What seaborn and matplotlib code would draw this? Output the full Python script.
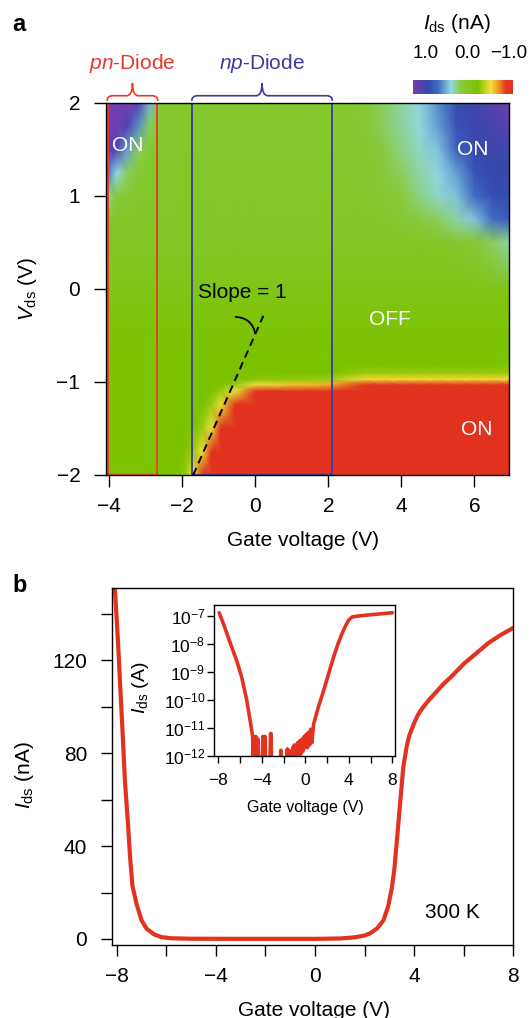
import numpy as np
import pandas as pd
import seaborn as sns
import matplotlib
matplotlib.use("Agg")
import matplotlib.pyplot as plt
from matplotlib.colors import LinearSegmentedColormap, Normalize
from matplotlib.path import Path
from matplotlib.patches import PathPatch, Rectangle
from matplotlib.ticker import FixedLocator, NullLocator

# ---------------- data: panel a (I_ds map, nA) ----------------
gate_grid = [-4.1, -3.8, -3.5, -3.2, -2.9, -2.6, -2.2, -1.95, -1.7, -1.45, -1.2, -0.95,
             -0.55, 0.0, 1.0, 2.0, 3.0, 3.5, 4.0, 4.5, 5.0, 5.5, 6.0, 6.5, 7.0]
vds_grid = [-2.0, -1.75, -1.5, -1.25, -1.1, -1.03, -0.97, -0.9, -0.8, -0.5, 0.0,
            0.5, 0.75, 1.0, 1.25, 1.5, 1.75, 2.0]
row_m200 = [-0.25]*7 + [-0.32, -0.55] + [-1.1]*16
row_m175 = [-0.25]*8 + [-0.35, -0.55] + [-1.1]*15
row_m150 = [-0.25]*9 + [-0.35, -0.55] + [-1.1]*14
row_m125 = [-0.25]*10 + [-0.35, -0.55] + [-1.1]*13
row_m110 = [-0.25]*11 + [-0.35, -0.55] + [-1.1]*12
row_m103 = [-0.25]*12 + [-0.35, -0.55, -0.65, -0.7] + [-1.0]*9
row_m097 = [-0.25]*13 + [-0.3, -0.32, -0.35] + [-0.6]*9
row_m090 = [-0.25]*16 + [-0.33]*9
row_m080 = [-0.25]*25
row_m050 = [-0.22]*25
row_p000 = [-0.1]*25
row_p050 = [0.0]*21 + [0.05, 0.1, 0.2, 0.3]
row_p075 = [0.02]*17 + [0.05, 0.1, 0.15, 0.2, 0.3, 0.45, 0.7, 0.8]
row_p100 = [0.3, 0.15, 0.08, 0.05] + [0.03]*12 + [0.05, 0.1, 0.15, 0.25, 0.35, 0.45, 0.7, 0.9, 0.9]
row_p125 = [0.8, 0.4, 0.2, 0.1, 0.05] + [0.04]*11 + [0.06, 0.12, 0.2, 0.3, 0.4, 0.55, 0.85, 0.95, 0.95]
row_p150 = [1.3, 1.05, 0.55, 0.2, 0.08] + [0.05]*11 + [0.08, 0.15, 0.25, 0.35, 0.45, 0.75, 0.95, 1.0, 1.0]
row_p175 = [1.3, 1.3, 1.1, 0.6, 0.2] + [0.05]*11 + [0.1, 0.2, 0.28, 0.38, 0.55, 0.85, 1.0, 1.05, 1.15]
row_p200 = [1.3, 1.3, 1.3, 1.1, 0.5, 0.1] + [0.05]*10 + [0.1, 0.2, 0.3, 0.4, 0.6, 0.9, 1.0, 1.15, 1.3]
ids_map = [row_m200, row_m175, row_m150, row_m125, row_m110, row_m103, row_m097, row_m090,
           row_m080, row_m050, row_p000, row_p050, row_p075, row_p100, row_p125, row_p150,
           row_p175, row_p200]

cbar_ticks = [1.0, 0.0, -1.0]
cbar_labels = ["1.0", "0.0", "\u22121.0"]

pn_box = [-4.03, -2.70]      # gate range of pn-diode box
np_box = [-1.74, 2.11]       # gate range of np-diode box
slope_gate = [-1.70, 0.22]
slope_vds = [-2.0, -0.29]

# ---------------- data: panel b (linear, nA) ----------------
gate_b = [-8.18, -8.07, -7.95, -7.87, -7.77, -7.67, -7.55, -7.46, -7.37, -7.2, -7.0, -6.8,
          -6.5, -6.2, -5.8, -5.0, -3.0, 0.0, 1.0, 1.6, 2.0, 2.22, 2.5, 2.76, 2.95, 3.1, 3.2,
          3.3, 3.43, 3.56, 3.7, 3.8, 4.0, 4.15, 4.3, 4.6, 4.9, 5.2, 5.5, 6.0, 6.5, 7.0, 7.5, 8.0]
ids_b = [160, 150, 128, 111, 90, 68, 50, 35, 23, 15, 8, 4.5,
         2.0, 0.8, 0.3, 0.1, 0.05, 0.05, 0.2, 0.7, 1.5, 2.4, 4.5, 8.0, 14, 22, 30,
         42, 58, 74, 83, 87.5, 93, 96.5, 99, 103, 106.5, 110, 113, 118.5, 123, 127.5, 131, 134]

# ---------------- data: inset (log, A) ----------------
gate_i = [-7.92, -7.5, -7.0, -6.77, -6.3, -5.85, -5.39, -5.02, -4.84,
          -4.80, -4.75, -4.70, -4.65, -4.60, -4.55, -4.50, -4.45, -4.40, -4.35, -4.30,
          -3.95, -3.90, -3.85, -3.80, -3.75, -3.70, -3.65,
          -3.25, -3.20, -3.15, -3.10,
          -2.30, -2.25, -2.20,
          -1.70, -1.65, -1.60, -1.50, -1.45,
          -1.20, -1.15, -1.10, -1.00, -0.95, -0.85, -0.80, -0.70, -0.60, -0.50, -0.40,
          -0.30, -0.20, -0.10, 0.00, 0.10, 0.20, 0.30, 0.40, 0.50, 0.60, 0.77,
          1.2, 1.69, 2.15, 2.61, 3.0, 3.38, 3.7, 3.99, 4.3, 4.77, 6.0, 8.0]
ids_i = [1.32e-7, 5.0e-8, 1.4e-8, 7.9e-9, 2.5e-9, 6.6e-10, 1.0e-10, 1.4e-11, 4.7e-12,
         8e-13, 5e-12, 8e-13, 3e-12, 1e-12, 5e-12, 8e-13, 2.5e-12, 8e-13, 4e-12, 5e-13,
         5e-13, 5e-12, 1e-12, 4e-12, 8e-13, 5e-12, 5e-13,
         5e-13, 6.3e-12, 6.3e-12, 5e-13,
         5e-13, 1.6e-12, 5e-13,
         5e-13, 1.8e-12, 5e-13, 1.6e-12, 5e-13,
         5e-13, 2e-12, 1e-12, 2.5e-12, 1e-12, 2e-12, 8e-13, 3e-12, 1e-12, 3.5e-12, 1.2e-12,
         4e-12, 1.5e-12, 5e-12, 2e-12, 6e-12, 2e-12, 7e-12, 2.5e-12, 9e-12, 3e-12, 1.4e-11,
         5.6e-11, 2.2e-10, 8.9e-10, 3.5e-9, 1.0e-8, 2.4e-8, 4.5e-8, 7.2e-8, 9.3e-8, 1.0e-7,
         1.12e-7, 1.32e-7]

# ---------------- style ----------------
sns.set_style("ticks", rc={"axes.edgecolor": "black", "xtick.color": "black",
                           "ytick.color": "black", "text.color": "black",
                           "axes.labelcolor": "black"})
plt.rcParams['font.family'] = ['Liberation Sans', 'DejaVu Sans']
plt.rcParams['mathtext.fontset'] = 'custom'
plt.rcParams['mathtext.rm'] = 'Liberation Sans'
plt.rcParams['mathtext.it'] = 'Liberation Sans:italic'
plt.rcParams['mathtext.bf'] = 'Liberation Sans:bold'
plt.rcParams['axes.unicode_minus'] = True

RED = '#e3321f'
BOXRED = '#e5392b'
BOXBLUE = '#3d3a9e'

cmap = LinearSegmentedColormap.from_list("ids", [
    (0.00, '#e0321e'), (0.07, '#e2381f'), (0.13, '#ee8a25'), (0.22, '#f0e23c'),
    (0.35, '#7bc200'), (0.52, '#86ca3a'), (0.62, '#92d9e4'), (0.75, '#3f6cc4'),
    (0.85, '#3449ad'), (0.95, '#6040ad'), (1.00, '#7040b0')])
norm = Normalize(vmin=-1.1, vmax=1.3)

W, H = 532, 1018
fig = plt.figure(figsize=(W/100, H/100), dpi=100)

def fax(l, t, r, b):
    return fig.add_axes([l/W, 1-b/H, (r-l)/W, (b-t)/H])

axa = fax(106, 102.7, 509, 475)
cax = fax(413.3, 80, 512.7, 94)
axb = fax(112.3, 587.7, 513.3, 945)
axi = fax(214.3, 605, 395.3, 756)

# ---------------- panel a ----------------
mesh = axa.pcolormesh(np.array(gate_grid), np.array(vds_grid), np.array(ids_map),
                      shading='gouraud', cmap=cmap, norm=norm)
axa.set_xlim(-4.09, 6.95)
axa.set_ylim(-2.0, 2.0)
axa.set_xticks([-4, -2, 0, 2, 4, 6])
axa.set_yticks([-2, -1, 0, 1, 2])
axa.tick_params(direction='out', length=8.5, width=1, labelsize=15)
axa.tick_params(axis='x', pad=7.5)
axa.tick_params(axis='y', pad=10)
for s in axa.spines.values():
    s.set_linewidth(1.0)

axa.add_patch(Rectangle((pn_box[0], -1.995), pn_box[1]-pn_box[0], 3.99, fill=False,
                        ec=BOXRED, lw=1.3))
axa.add_patch(Rectangle((np_box[0], -1.995), np_box[1]-np_box[0], 3.99, fill=False,
                        ec=BOXBLUE, lw=1.3))

def brace(ax, x0, x1, color, yb=2.02, ym=2.075, yt=2.21, hw=0.16):
    xc = 0.5*(x0+x1)
    verts = [(x0, yb), (x0, ym), (x0+hw, ym), (xc-hw, ym), (xc, ym), (xc, yt),
             (xc, ym), (xc+hw, ym), (x1-hw, ym), (x1, ym), (x1, yb)]
    codes = [Path.MOVETO, Path.CURVE3, Path.CURVE3, Path.LINETO, Path.CURVE3, Path.CURVE3,
             Path.CURVE3, Path.CURVE3, Path.LINETO, Path.CURVE3, Path.CURVE3]
    ax.add_patch(PathPatch(Path(verts, codes), fill=False, ec=color, lw=1.2, clip_on=False))

brace(axa, pn_box[0]-0.03, pn_box[1]+0.03, BOXRED)
brace(axa, np_box[0], np_box[1], BOXBLUE)
axa.text(np.mean(pn_box), 2.42, r'$\mathit{pn}$-Diode', color=BOXRED, fontsize=15,
         ha='center', va='center', clip_on=False)
axa.text(np.mean(np_box), 2.42, r'$\mathit{np}$-Diode', color=BOXBLUE, fontsize=15,
         ha='center', va='center', clip_on=False)

axa.plot(slope_gate, slope_vds, color='black', lw=1.4, dashes=(4, 2.6))
arc = Path([(-0.56, -0.30), (-0.08, -0.31), (0.0, -0.486)],
           [Path.MOVETO, Path.CURVE3, Path.CURVE3])
axa.add_patch(PathPatch(arc, fill=False, ec='black', lw=1.3))
axa.text(-0.36, -0.04, 'Slope = 1', fontsize=15, ha='center', va='center')

for (tx, ty, tt) in [(-3.49, 1.54, 'ON'), (5.97, 1.5, 'ON'), (3.69, -0.33, 'OFF'),
                     (6.07, -1.51, 'ON')]:
    axa.text(tx, ty, tt, color='white', fontsize=15, ha='center', va='center')

axa.set_xlabel('Gate voltage (V)', fontsize=15, va='center')
axa.xaxis.set_label_coords(0.49, -0.175)
axa.set_ylabel(r'$V_{\mathrm{ds}}$ (V)', fontsize=15, va='center')
axa.yaxis.set_label_coords(-0.196, 0.5)

# colorbar
cb = fig.colorbar(mesh, cax=cax, orientation='horizontal')
cb.outline.set_visible(False)
cax.invert_xaxis()
cax.xaxis.set_ticks_position('top')
cb.set_ticks(cbar_ticks)
cb.set_ticklabels(cbar_labels)
cax.tick_params(length=0, labelsize=13.5, pad=13)
fig.text(456.7/W, 1-23/H, r'$I_{\mathrm{ds}}$ (nA)', fontsize=15, ha='center', va='center')

# ---------------- panel b ----------------
sns.lineplot(x=gate_b, y=ids_b, ax=axb, color=RED, lw=3, estimator=None, sort=False)
axb.set_xlim(-8.18, 8.0)
axb.set_ylim(-2.6, 151.3)
axb.xaxis.set_major_locator(FixedLocator([-8, -4, 0, 4, 8]))
axb.xaxis.set_minor_locator(FixedLocator([-6, -2, 2, 6]))
axb.yaxis.set_major_locator(FixedLocator([0, 40, 80, 120]))
axb.yaxis.set_minor_locator(FixedLocator([20, 60, 100, 140]))
axb.tick_params(which='both', direction='out', length=8, width=1)
axb.tick_params(which='major', labelsize=15, pad=8)
axb.tick_params(axis='y', which='major', pad=10)
for s in axb.spines.values():
    s.set_linewidth(1.0)
axb.set_xlabel('Gate voltage (V)', fontsize=15, va='center')
axb.xaxis.set_label_coords(0.503, -0.183)
axb.set_ylabel(r'$I_{\mathrm{ds}}$ (nA)', fontsize=15, va='center')
axb.yaxis.set_label_coords(-0.218, 0.476)
axb.text(5.53, 11.2, '300 K', fontsize=15, ha='center', va='center')

# ---------------- inset ----------------
axi.set_facecolor('white')
sns.lineplot(x=gate_i, y=ids_i, ax=axi, color=RED, lw=2.6, estimator=None, sort=False)
axi.set_yscale('log')
axi.set_xlim(-8.37, 8.28)
axi.set_ylim(1e-12, 2.5e-7)
axi.xaxis.set_major_locator(FixedLocator([-8, -4, 0, 4, 8]))
axi.xaxis.set_minor_locator(FixedLocator([-6, -2, 2, 6]))
axi.yaxis.set_major_locator(FixedLocator([1e-12, 1e-11, 1e-10, 1e-9, 1e-8, 1e-7]))
axi.yaxis.set_minor_locator(NullLocator())
axi.tick_params(which='both', direction='out', length=5, width=1)
axi.tick_params(which='major', labelsize=12.5)
axi.tick_params(axis='x', pad=7)
axi.tick_params(axis='y', pad=1.5)
for s in axi.spines.values():
    s.set_linewidth(1.0)
axi.set_xlabel('Gate voltage (V)', fontsize=11.5, va='center')
axi.xaxis.set_label_coords(0.501, -0.344)
axi.set_ylabel(r'$I_{\mathrm{ds}}$ (A)', fontsize=14, va='center')
axi.yaxis.set_label_coords(-0.41, 0.45)

fig.text(18.5/W, 1-24.5/H, 'a', fontsize=17, fontweight='bold', ha='center', va='center')
fig.text(19.5/W, 1-586/H, 'b', fontsize=17, fontweight='bold', ha='center', va='center')

fig.savefig('out.png', dpi=100)
